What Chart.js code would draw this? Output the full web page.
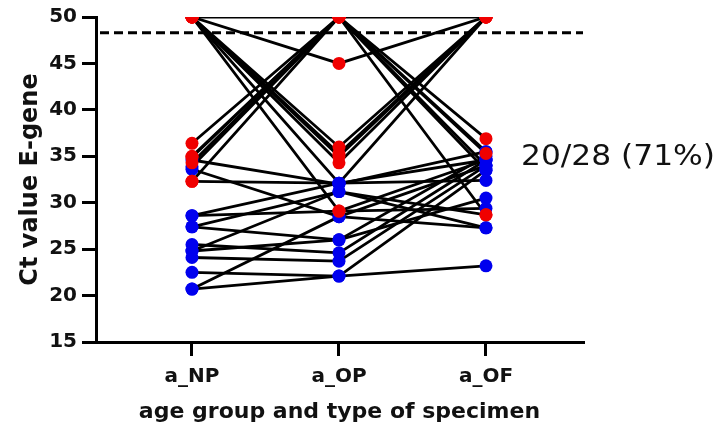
<!DOCTYPE html>
<html>
<head>
<meta charset="utf-8">
<script src="https://cdn.jsdelivr.net/npm/chart.js@4"></script>
<style>
html,body{margin:0;padding:0;background:#fff;}
#wrap{width:723px;height:433px;position:relative;}
</style>
</head>
<body>
<div id="wrap"><canvas id="c" width="723" height="433"></canvas></div>
<script>
// ---- data ----
const categories = ['a_NP', 'a_OP', 'a_OF'];
const npValues = [50, 50, 50, 50, 50, 50, 50, 50, 36.4, 34.9, 34.3, 33.9, 32.3, 35.0, 34.6, 20.7, 20.7, 22.5, 24.1, 24.8, 25.5, 27.4, 28.6, 28.6, 24.8, 27.4, 33.6, 32.3];
const opValues = [50, 45, 36.0, 35.3, 34.3, 35.0, 32.1, 29.1, 50, 50, 50, 50, 50, 50, 32.0, 22.1, 28.5, 22.1, 23.7, 26.0, 24.6, 31.2, 32.1, 29.1, 31.2, 26.0, 28.5, 32.1];
const ofValues = [50, 50, 50, 50, 50, 50, 50, 34.6, 36.9, 35.3, 35.5, 34.0, 33.5, 28.7, 35.5, 23.2, 34.0, 33.5, 34.0, 30.5, 34.6, 27.3, 32.4, 29.4, 28.7, 35.0, 27.3, 34.6];
// 1 = highlighted (red) point, 0 = other (blue) point
const npFlag = [1,1,1,1,1,1,1,1,1,1,1,0,1,1,0,0,0,0,0,0,0,0,0,0,0,0,0,1];
const opFlag = [1,1,1,1,1,1,0,1,1,1,1,1,1,1,0,0,0,0,0,0,0,0,0,1,0,0,0,0];
const ofFlag = [1,1,1,1,1,1,1,0,1,1,0,0,0,1,0,0,0,0,0,0,0,0,0,0,1,0,0,0];
const yTicks = [15, 20, 25, 30, 35, 40, 45, 50];
const cutoff = 48.3;
const annotationText = '20/28 (71%)';
const xTitle = 'age group and type of specimen';
const yTitle = 'Ct value E-gene';

// ---- build datasets ----
const RED = '#f00000', BLUE = '#0000ee';
const columns = [npValues, opValues, ofValues];
const flags = [npFlag, opFlag, ofFlag];
const datasets = [];
for (let i = 0; i < npValues.length; i++) {
  datasets.push({
    type: 'line',
    data: columns.map((col, k) => ({x: k, y: col[i]})),
    borderColor: '#000',
    borderWidth: 2.8,
    pointRadius: 0,
    fill: false,
    tension: 0,
    order: 2
  });
}
const redPts = [], bluePts = [];
columns.forEach((col, k) => col.forEach((v, i) => {
  (flags[k][i] ? redPts : bluePts).push({x: k, y: v});
}));
datasets.push({type: 'scatter', data: bluePts, backgroundColor: BLUE, borderWidth: 0, pointRadius: 6.5, order: 1});
datasets.push({type: 'scatter', data: redPts, backgroundColor: RED, borderWidth: 0, pointRadius: 6.5, order: 0});

const extras = {
  id: 'extras',
  afterDatasetsDraw(chart) {
    const {ctx, chartArea, scales} = chart;
    const y = scales.y.getPixelForValue(cutoff);
    ctx.save();
    ctx.strokeStyle = '#000';
    ctx.lineWidth = 3;
    ctx.setLineDash([9, 5]);
    ctx.beginPath();
    ctx.moveTo(chartArea.left + 4, y);
    ctx.lineTo(chartArea.right, y);
    ctx.stroke();
    ctx.restore();
  },
  afterDraw(chart) {
    const {ctx, chartArea} = chart;
    ctx.save();
    ctx.fillStyle = '#111';
    ctx.font = '28px "DejaVu Sans"';
    ctx.textBaseline = 'middle';
    const w = ctx.measureText(annotationText).width;
    const target = 194;
    ctx.translate(chartArea.right - 62, 158);
    ctx.scale(target / w, 1);
    ctx.fillText(annotationText, 0, 0);
    ctx.restore();
  }
};

new Chart(document.getElementById('c'), {
  data: {datasets},
  options: {
    responsive: false,
    animation: false,
    events: [],
    layout: {padding: {top: 10, right: 140, left: 0, bottom: 0}},
    plugins: {legend: {display: false}, tooltip: {enabled: false}},
    scales: {
      x: {
        type: 'linear',
        min: -0.653,
        max: 2.66,
        afterBuildTicks: s => { s.ticks = categories.map((c, k) => ({value: k})); },
        afterFit: s => { s.height = 91; },
        ticks: {
          callback: v => categories[v] ?? '',
          color: '#111',
          font: {family: 'DejaVu Sans', weight: 'bold', size: 20},
          padding: 9
        },
        grid: {drawOnChartArea: false, drawTicks: true, tickLength: 14, color: '#000', lineWidth: 3},
        border: {display: true, color: '#000', width: 3},
        title: {display: true, text: xTitle, color: '#111', font: {family: 'DejaVu Sans', weight: 'bold', size: 22}, padding: {top: 2, bottom: 8}}
      },
      y: {
        type: 'linear',
        min: 15,
        max: 50,
        afterBuildTicks: s => { s.ticks = yTicks.map(v => ({value: v})); },
        afterFit: s => { s.width = 96; },
        ticks: {
          color: '#111',
          font: {family: 'DejaVu Sans', weight: 'bold', size: 20},
          padding: 5
        },
        grid: {drawOnChartArea: false, drawTicks: true, tickLength: 14, color: '#000', lineWidth: 3},
        border: {display: true, color: '#000', width: 3},
        title: {display: true, text: yTitle, color: '#111', font: {family: 'DejaVu Sans', weight: 'bold', size: 24}, padding: {top: 16, bottom: 4}}
      }
    }
  },
  plugins: [extras]
});
</script>
</body>
</html>
